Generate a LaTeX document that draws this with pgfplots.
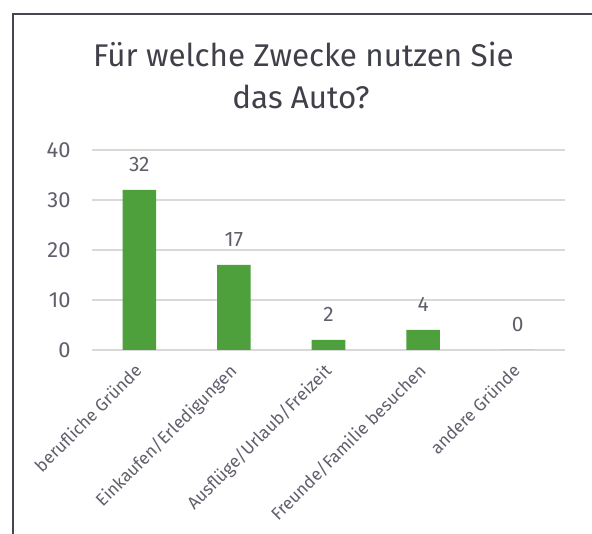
\documentclass[border=0pt]{standalone}
\usepackage{pgfplots}
\pgfplotsset{compat=1.18}
\usepackage{fontspec}
\setmainfont{Fira Sans}
\definecolor{titlecol}{RGB}{64,64,74}
\definecolor{tickcol}{RGB}{96,96,108}
\definecolor{barcol}{RGB}{78,160,60}
\definecolor{gridcol}{RGB}{217,217,217}
\definecolor{framecol}{RGB}{70,70,78}
\begin{document}
\begin{tikzpicture}[x=1bp,y=1bp]
\clip (0,0) rectangle (592,534);
\fill[white] (0,0) rectangle (592,534);
\draw[framecol, line width=2bp] (12.5,-10) -- (12.5,519.8) -- (600,519.8);
\node[anchor=base, text=titlecol, font=\fontsize{31.5}{36}\selectfont] at (303.4,467.3) {Für welche Zwecke nutzen Sie};
\node[anchor=base, text=titlecol, font=\fontsize{31.5}{36}\selectfont] at (301,425.7) {das Auto?};
\begin{axis}[
  at={(92bp,184bp)}, anchor=south west,
  scale only axis, width=473bp, height=200bp,
  xmin=-0.5, xmax=4.5, ymin=0, ymax=40,
  ytick={0,10,20,30,40},
  xtick={0,1,2,3,4},
  xticklabels={berufliche Gründe, Einkaufen/Erledigungen, Ausflüge/Urlaub/Freizeit, Freunde/Familie besuchen, andere Gründe},
  axis line style={draw=none},
  tick style={draw=none},
  ymajorgrids, major grid style={gridcol, line width=1.5bp},
  /pgf/number format/assume math mode=true,
  yticklabel style={text=tickcol, font=\fontsize{22}{26}\selectfont, xshift=-18bp},
  xticklabel style={text=tickcol, font=\fontsize{17.5}{20}\selectfont, inner sep=0pt, xshift=-6bp, yshift=-8bp, rotate=45, anchor=north east},
  ybar, bar width=33.6bp,
  nodes near coords,
  every node near coord/.append style={text=tickcol, font=\fontsize{21}{25}\selectfont, anchor=base, yshift=18bp, /pgf/number format/assume math mode=true},
]
\addplot[fill=barcol, draw=none] coordinates {(0,32) (1,17) (2,2) (3,4) (4,0)};
\end{axis}
\end{tikzpicture}
\end{document}
